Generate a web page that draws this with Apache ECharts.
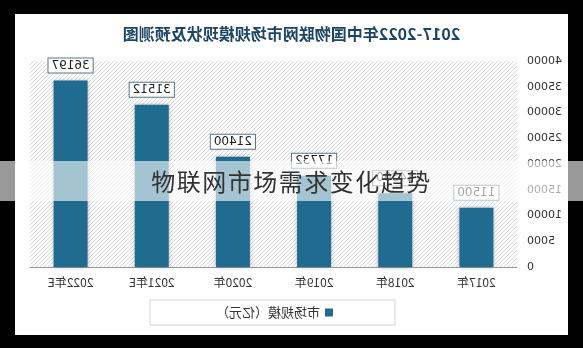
<!DOCTYPE html>
<html>
<head>
<meta charset="utf-8">
<script src="https://cdn.jsdelivr.net/npm/echarts@6/dist/echarts.min.js"></script>
<style>
  html, body { margin: 0; padding: 0; background: #000; }
  #wrap { position: relative; width: 583px; height: 348px; overflow: hidden; }
  #chart { position: absolute; left: 0; top: 0; width: 583px; height: 348px; transform: scaleX(-1); }
  #band {
    position: absolute; left: 0; top: 161px; width: 583px; height: 40px;
    background: rgba(255,255,255,0.6);
    text-align: center; line-height: 40px;
    font-family: "Noto Sans CJK SC", sans-serif; font-size: 24px; color: #333;
    letter-spacing: 1.5px;
  }
</style>
</head>
<body>
<div id="wrap">
  <div id="chart"></div>
  <div id="band">物联网市场需求变化趋势</div>
</div>
<script>
// 中国物联网市场规模（亿元）
const titleText = '2017-2022年中国物联网市场规模现状及预测图';
const seriesName = '市场规模（亿元）';
const categories = ['2017年', '2018年', '2019年', '2020年', '2021年E', '2022年E'];
const marketSize = [11500, 14300, 17732, 21400, 31512, 36197];
const yTicks = { min: 0, max: 40000, interval: 5000 };

// diagonal hatch used as the plot background
function hatchPattern() {
  const s = 4;
  const c = document.createElement('canvas');
  c.width = s; c.height = s;
  const g = c.getContext('2d');
  g.fillStyle = '#ffffff';
  g.fillRect(0, 0, s, s);
  g.strokeStyle = '#d6d6d6';
  g.lineWidth = 1;
  for (let k = -1; k <= 1; k++) {
    g.beginPath();
    g.moveTo(k * s, 0);
    g.lineTo(k * s + s, s);
    g.stroke();
  }
  return c;
}

const chart = echarts.init(document.getElementById('chart'), null, { renderer: 'canvas' });
chart.setOption({
  backgroundColor: '#000',
  animation: false,
  graphic: [{
    type: 'rect', z: -10, silent: true,
    shape: { x: 15, y: 14, width: 553, height: 321 },
    style: { fill: '#fff' }
  }],
  title: {
    text: titleText,
    left: 'center',
    top: 21,
    textStyle: {
      fontFamily: '"Noto Sans CJK SC", sans-serif',
      fontSize: 16, fontWeight: 'bold', color: '#1c4566'
    }
  },
  legend: {
    data: [seriesName],
    left: 188, top: 300,
    padding: [6, 66, 6, 62],
    borderColor: '#d4d4d4', borderWidth: 1,
    icon: 'rect', itemWidth: 8, itemHeight: 8, itemGap: 6,
    textStyle: { fontFamily: '"Noto Sans CJK SC", sans-serif', fontSize: 13, color: '#333' }
  },
  grid: {
    left: 66, right: 30, top: 61, bottom: 81,
    show: true, borderWidth: 0,
    backgroundColor: { image: hatchPattern(), repeat: 'repeat' }
  },
  xAxis: {
    type: 'category',
    data: categories,
    axisLine: { lineStyle: { color: '#999' } },
    axisTick: { show: false },
    axisLabel: {
      margin: 9, fontSize: 12, color: '#333',
      fontFamily: '"Noto Sans CJK SC", sans-serif'
    }
  },
  yAxis: {
    type: 'value',
    min: yTicks.min, max: yTicks.max, interval: yTicks.interval,
    axisLine: { show: false },
    axisTick: { show: false },
    splitLine: { show: false },
    axisLabel: {
      margin: 10, fontSize: 11, color: '#333', fontFamily: 'DejaVu Sans',
      formatter: v => String(v)
    }
  },
  series: [{
    name: seriesName,
    type: 'bar',
    data: marketSize,
    barWidth: 34,
    itemStyle: {
      color: '#206b90',
      shadowBlur: 5, shadowColor: 'rgba(0,0,0,0.35)'
    },
    label: {
      show: true, position: 'top', distance: 8,
      fontSize: 12, color: '#222', fontFamily: 'DejaVu Sans',
      backgroundColor: '#fff', borderColor: '#5a7585', borderWidth: 1,
      padding: [1, 3, 1, 3]
    }
  }]
});
</script>
</body>
</html>
